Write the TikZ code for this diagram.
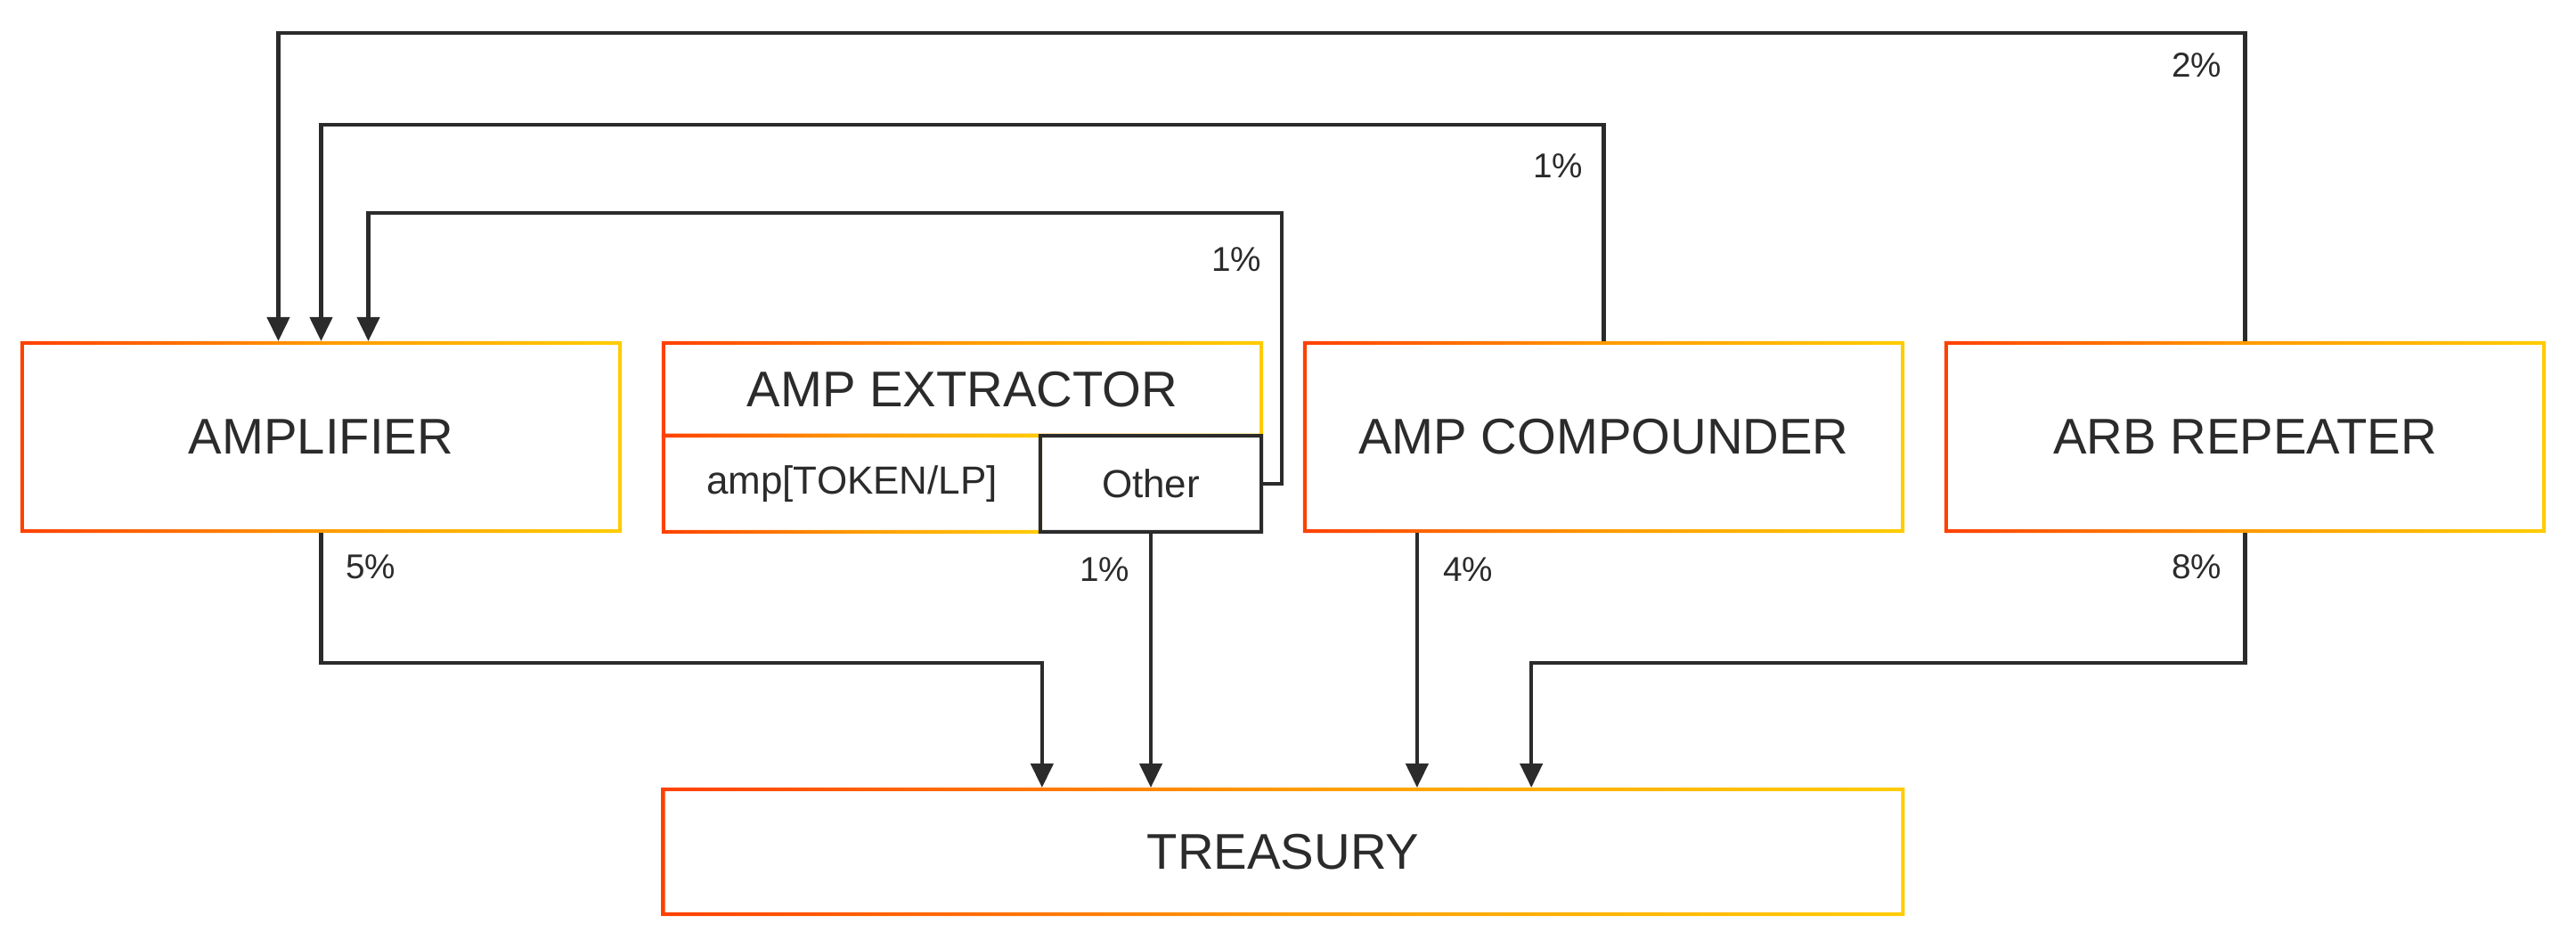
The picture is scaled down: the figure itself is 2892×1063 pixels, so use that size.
\documentclass[tikz,border=0pt]{standalone}
\usepackage{fontspec}
\setmainfont{Liberation Sans}
\usetikzlibrary{arrows.meta}
\definecolor{ampink}{HTML}{2B2B2B}
\definecolor{ampred}{HTML}{FF4000}
\definecolor{ampamber}{HTML}{FF9A00}
\definecolor{ampyellow}{HTML}{FFCC00}
\tikzset{
  cell/.style={inner sep=0pt, outer sep=0pt, text=ampink},
  bigcell/.style={cell, minimum width=6.75cm, minimum height=2.15cm, font=\fontsize{16}{19}\selectfont},
  smallcell/.style={cell, minimum height=1.115cm, font=\fontsize{12.5}{15}\selectfont},
  pct/.style={text=ampink, inner sep=0pt, font=\fontsize{11}{13}\selectfont},
  flow/.style={draw=ampink, line width=1.25pt, -{Triangle[length=0.27cm,width=0.25cm]}},
  frame/.style={even odd rule, left color=ampred, right color=ampyellow, middle color=ampamber}
}

\begin{document}
\begin{tikzpicture}[x=0.01cm, y=-0.01cm]
\useasboundingbox (0,0) rectangle (2892,1063);
\node[bigcell] (amplifier) at (360.5,490.5) {AMPLIFIER};
\node[bigcell, minimum height=1.075cm] (extractor) at (1080.5,436.75) {AMP EXTRACTOR};
\node[smallcell, minimum width=4.27cm] (lpcell) at (956.5,543) {amp[TOKEN/LP]};
\node[bigcell] (compounder) at (1800.5,490.5) {AMP COMPOUNDER};
\node[bigcell] (arb) at (2520.5,490.5) {ARB REPEATER};
\node[bigcell, minimum width=13.95cm, minimum height=1.44cm] (treasury) at (1440.5,956) {TREASURY};
\foreach \n in {amplifier,extractor,lpcell,compounder,arb,treasury}
  \shade[frame] (\n.south west) rectangle (\n.north east) ([shift={(4,-4)}]\n.south west) rectangle ([shift={(-4,4)}]\n.north east);
\node[smallcell, minimum width=2.52cm] (other) at (1292,543) {Other};
\fill[ampink, even odd rule] (other.south west) rectangle (other.north east) ([shift={(4,-4)}]other.south west) rectangle ([shift={(-4,4)}]other.north east);

\coordinate (rail1) at (0,37);
\coordinate (rail2) at (0,140);
\coordinate (rail3) at (0,239);
\coordinate (rail4) at (0,744);
\coordinate (side) at (1439,0);
\coordinate (in1) at ([xshift=-0.48cm]amplifier.north);
\coordinate (in3) at ([xshift=0.53cm]amplifier.north);
\coordinate (out4) at ([xshift=-2.095cm]compounder.south);
\coordinate (t1) at ([xshift=-2.705cm]treasury.north);
\coordinate (t4) at ([xshift=2.785cm]treasury.north);

\draw[flow] (arb.north) |- (in1 |- rail1) -- (in1);
\draw[flow] (compounder.north) |- (amplifier.north |- rail2) -- (amplifier.north);
\draw[flow] (other.east) -- (other.east -| side) |- (in3 |- rail3) -- (in3);
\draw[flow] (amplifier.south) |- (t1 |- rail4) -- (t1);
\draw[flow] (other.south) -- (other.south |- treasury.north);
\draw[flow] (out4) -- (out4 |- treasury.north);
\draw[flow] (arb.south) |- (t4 |- rail4) -- (t4);

\node[pct] (pctarb) at (2466,73) {2\%};
\node[pct] (pctcomp) at (1749,186) {1\%};
\node[pct] (pctother) at (1388,291) {1\%};
\node[pct] (pctamp) at (416,636) {5\%};
\node[pct] (pctlp) at (1240,639) {1\%};
\node[pct] (pctcompdown) at (1648,639) {4\%};
\node[pct] (pctarbdown) at (2466,636) {8\%};
\end{tikzpicture}
\end{document}
